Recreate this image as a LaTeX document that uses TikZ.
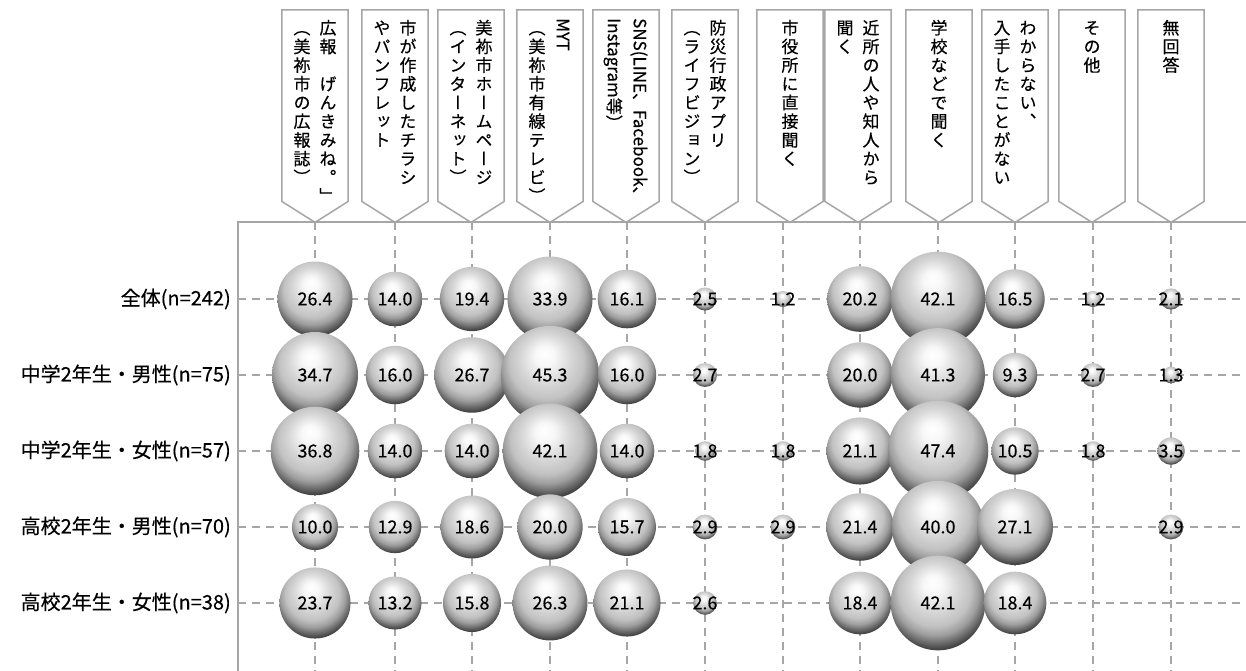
\documentclass[tikz,border=0pt]{standalone}
\usepackage{fontspec}
\usepackage{graphicx}
\setmainfont{Noto Sans CJK JP}[FakeBold=0.35]
\newfontfamily\tatefont[RawFeature=+vert,FakeBold=0.35]{Noto Sans CJK JP}
\usetikzlibrary{positioning}

\definecolor{lineC}{HTML}{A6A6A6}

% shading of the bubbles
\pgfdeclareradialshading{bubble}{\pgfpoint{-3bp}{11bp}}{%
  color(0bp)=(white);
  color(5bp)=(white!97!black);
  color(13bp)=(white!84!black);
  color(19bp)=(white!76!black);
  color(23bp)=(white!62!black);
  color(26bp)=(white!44!black);
  color(29bp)=(white!26!black);
  color(33bp)=(white!24!black);
  color(36bp)=(white!58!black);
  color(50bp)=(white!58!black)}

% vertical text: one column, a braced group is set sideways
\ExplSyntaxOn
\NewDocumentCommand \tate { m }
  {
    \vtop
      {
        \offinterlineskip \kern 0pt
        \tl_map_inline:nn {#1}
          {
            \int_compare:nNnTF { \tl_count:n {##1} } > { 1 }
              { \hbox_to_wd:nn { 1em } { \hss \rotatebox{-90}{##1} \hss } \kern 3pt }
              { \hbox_to_wd:nn { 1em } { \hss \tatefont ##1 \hss \vrule height .94em depth .16em width 0pt } }
          }
      }
  }
\ExplSyntaxOff

\begin{document}
\begin{tikzpicture}
  [x=1pt, y=-1pt,
   headN/.style={anchor=north, minimum width=66pt, text height=0pt, text depth=175pt,
                 inner xsep=0pt, inner ysep=8pt, font=\fontsize{17}{17}\selectfont},
   boxL/.style={draw=lineC, line width=1.5pt},
   gridL/.style={draw=lineC, line width=1.5pt},
   dashL/.style={draw=lineC, line width=1.5pt, dash pattern=on 8pt off 6pt},
   rowN/.style={anchor=east, inner sep=0pt, font=\fontsize{20}{20}\selectfont},
   numL/.style={inner sep=0pt, font=\fontsize{18}{18}\selectfont},
   bubbleN/.style={circle, inner sep=0pt, shade, shading=bubble,
                   minimum size={14.6*sqrt(#1)}, label={[numL]center:#1}}]

  \useasboundingbox (0,0) rectangle (1246,671);

  % grid
  \draw[gridL] (238,671) -- (238,222) -- (1246,222);
  \draw[dashL] (238,299) -- (1246,299) (238,375) -- (1246,375) (238,451) -- (1246,451)
               (238,527) -- (1246,527) (238,603) -- (1246,603);
  \draw[dashL] (315,222) -- (315,671) (395,222) -- (395,671) (472,222) -- (472,671)
               (550,222) -- (550,671) (627,222) -- (627,671) (705,222) -- (705,671)
               (783,222) -- (783,671) (860,222) -- (860,671) (938,222) -- (938,671)
               (1015,222) -- (1015,671) (1093,222) -- (1093,671) (1171,222) -- (1171,671);

  % headers
  \node[headN] (h1)  at (315,10)  {\tate{（美祢市の広報誌）}\hskip9pt\tate{広報　げんきみね。」}};
  \node[headN] (h2)  at (395,10)  {\tate{やパンフレット}\hskip9pt\tate{市が作成したチラシ}};
  \node[headN] (h3)  at (471,10)  {\tate{（インターネット）}\hskip9pt\tate{美祢市ホームページ}};
  \node[headN] (h4)  at (550,10)  {\tate{（美祢市有線テレビ）}\hskip9pt\tate{{MYT}}};
  \node[headN] (h5)  at (626,10)  {\tate{{Instagram等）}}\hskip9pt\tate{{SNS(LINE、Facebook、}}};
  \node[headN] (h6)  at (705,10)  {\tate{（ライフビジョン）}\hskip9pt\tate{防災行政アプリ}};
  \node[headN] (h7)  at (790,10)  {\tate{市役所に直接聞く}};
  \node[headN] (h8)  at (858,10)  {\tate{聞く}\hskip9pt\tate{近所の人や知人から}};
  \node[headN] (h9)  at (939,10)  {\tate{学校などで聞く}};
  \node[headN] (h10) at (1015,10) {\tate{入手したことがない}\hskip9pt\tate{わからない、}};
  \node[headN] (h11) at (1092,10) {\tate{その他}};
  \node[headN] (h12) at (1171,10) {\tate{無回答}};

  \foreach \h in {h1,h2,h3,h4,h5,h6,h7,h8,h9,h10,h11,h12}
    \draw[boxL] (\h.north west) -- (\h.north east) -- (\h.south east)
      -- ([yshift=-21pt]\h.south) -- (\h.south west) -- cycle;

  % rows
  \node[rowN] (ra) at (231,299) {全体(n=242)};
  \node[rowN] (rb) at (231,375) {中学2年生・男性(n=75)};
  \node[rowN] (rc) at (231,451) {中学2年生・女性(n=57)};
  \node[rowN] (rd) at (231,527) {高校2年生・男性(n=70)};
  \node[rowN] (re) at (231,603) {高校2年生・女性(n=38)};

  % bubbles
  \node[bubbleN=26.4] (a1)  at (315,299)  {};
  \node[bubbleN=14.0] (a2)  at (395,299)  {};
  \node[bubbleN=19.4] (a3)  at (472,299)  {};
  \node[bubbleN=33.9] (a4)  at (550,299)  {};
  \node[bubbleN=16.1] (a5)  at (627,299)  {};
  \node[bubbleN=2.5]  (a6)  at (705,299)  {};
  \node[bubbleN=1.2]  (a7)  at (783,299)  {};
  \node[bubbleN=20.2] (a8)  at (860,299)  {};
  \node[bubbleN=42.1] (a9)  at (938,299)  {};
  \node[bubbleN=16.5] (a10) at (1015,299) {};
  \node[bubbleN=1.2]  (a11) at (1093,299) {};
  \node[bubbleN=2.1]  (a12) at (1171,299) {};

  \node[bubbleN=34.7] (b1)  at (315,375)  {};
  \node[bubbleN=16.0] (b2)  at (395,375)  {};
  \node[bubbleN=26.7] (b3)  at (472,375)  {};
  \node[bubbleN=45.3] (b4)  at (550,375)  {};
  \node[bubbleN=16.0] (b5)  at (627,375)  {};
  \node[bubbleN=2.7]  (b6)  at (705,375)  {};
  \node[bubbleN=20.0] (b8)  at (860,375)  {};
  \node[bubbleN=41.3] (b9)  at (938,375)  {};
  \node[bubbleN=9.3]  (b10) at (1015,375) {};
  \node[bubbleN=2.7]  (b11) at (1093,375) {};
  \node[bubbleN=1.3]  (b12) at (1171,375) {};

  \node[bubbleN=36.8] (c1)  at (315,451)  {};
  \node[bubbleN=14.0] (c2)  at (395,451)  {};
  \node[bubbleN=14.0] (c3)  at (472,451)  {};
  \node[bubbleN=42.1] (c4)  at (550,451)  {};
  \node[bubbleN=14.0] (c5)  at (627,451)  {};
  \node[bubbleN=1.8]  (c6)  at (705,451)  {};
  \node[bubbleN=1.8]  (c7)  at (783,451)  {};
  \node[bubbleN=21.1] (c8)  at (860,451)  {};
  \node[bubbleN=47.4] (c9)  at (938,451)  {};
  \node[bubbleN=10.5] (c10) at (1015,451) {};
  \node[bubbleN=1.8]  (c11) at (1093,451) {};
  \node[bubbleN=3.5]  (c12) at (1171,451) {};

  \node[bubbleN=10.0] (d1)  at (315,527)  {};
  \node[bubbleN=12.9] (d2)  at (395,527)  {};
  \node[bubbleN=18.6] (d3)  at (472,527)  {};
  \node[bubbleN=20.0] (d4)  at (550,527)  {};
  \node[bubbleN=15.7] (d5)  at (627,527)  {};
  \node[bubbleN=2.9]  (d6)  at (705,527)  {};
  \node[bubbleN=2.9]  (d7)  at (783,527)  {};
  \node[bubbleN=21.4] (d8)  at (860,527)  {};
  \node[bubbleN=40.0] (d9)  at (938,527)  {};
  \node[bubbleN=27.1] (d10) at (1015,527) {};
  \node[bubbleN=2.9]  (d12) at (1171,527) {};

  \node[bubbleN=23.7] (e1)  at (315,603)  {};
  \node[bubbleN=13.2] (e2)  at (395,603)  {};
  \node[bubbleN=15.8] (e3)  at (472,603)  {};
  \node[bubbleN=26.3] (e4)  at (550,603)  {};
  \node[bubbleN=21.1] (e5)  at (627,603)  {};
  \node[bubbleN=2.6]  (e6)  at (705,603)  {};
  \node[bubbleN=18.4] (e8)  at (860,603)  {};
  \node[bubbleN=42.1] (e9)  at (938,603)  {};
  \node[bubbleN=18.4] (e10) at (1015,603) {};

\end{tikzpicture}
\end{document}
